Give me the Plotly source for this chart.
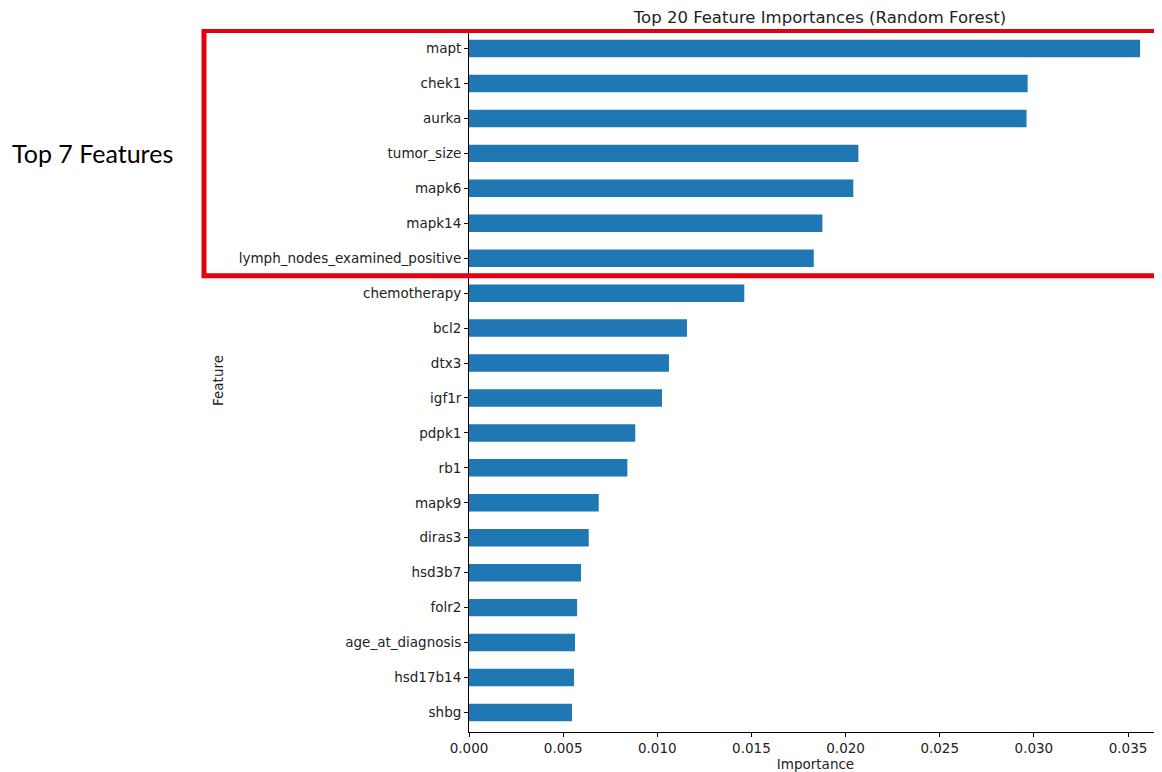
import plotly.graph_objects as go

features = ["mapt", "chek1", "aurka", "tumor_size", "mapk6", "mapk14",
            "lymph_nodes_examined_positive", "chemotherapy", "bcl2", "dtx3",
            "igf1r", "pdpk1", "rb1", "mapk9", "diras3", "hsd3b7", "folr2",
            "age_at_diagnosis", "hsd17b14", "shbg"]
importance = [0.03564, 0.02967, 0.02961, 0.02068, 0.02041, 0.01877,
              0.01831, 0.01462, 0.01158, 0.01062, 0.01025, 0.00883,
              0.00841, 0.00689, 0.00636, 0.00595, 0.00574, 0.00563,
              0.00558, 0.00547]
tick_vals = [0.0, 0.005, 0.01, 0.015, 0.02, 0.025, 0.03, 0.035]
tick_text = ["0.000", "0.005", "0.010", "0.015", "0.020", "0.025", "0.030", "0.035"]

feat_rev = features[::-1]
imp_rev = importance[::-1]

OFF = 8  # page body offset
W, H = 1162 - OFF, 772 - OFF
L, R, T, B = 469 - OFF, 0, 29 - OFF, 40
PW = W - L  # plot width in px

fig = go.Figure()
fig.add_trace(go.Bar(
    x=imp_rev, y=feat_rev, orientation="h",
    marker=dict(color="#1f77b4", line=dict(width=0)),
    width=0.5,
))

font = "DejaVu Sans, sans-serif"
fig.update_layout(
    width=W, height=H,
    margin=dict(l=L, r=R, t=T, b=B, pad=0),
    plot_bgcolor="white", paper_bgcolor="white",
    showlegend=False,
    font=dict(family=font, size=13.5, color="#222222"),
    title=dict(text="Top 20 Feature Importances (Random Forest)",
               x=(820 - OFF) / W, xanchor="center", y=1 - (17 - OFF) / H, yanchor="middle",
               font=dict(family=font, size=16.5, color="#222222")),
)
fig.update_xaxes(
    range=[0, PW / 18829.0],
    tickvals=tick_vals, ticktext=tick_text,
    ticks="outside", ticklen=4, tickcolor="black", tickwidth=1,
    showline=True, linecolor="black", linewidth=1,
    showgrid=False, zeroline=False,
    title=dict(text="Importance", font=dict(family=font, size=13.5), standoff=2),
    tickfont=dict(family=font, size=13.5),
)
fig.update_yaxes(
    type="category",
    categoryorder="array", categoryarray=feat_rev,
    range=[-0.56, 19.56],
    ticks="outside", ticklen=4, tickcolor="black", tickwidth=1,
    showline=True, linecolor="black", linewidth=1,
    showgrid=False, zeroline=False,
    title=dict(text="Feature", font=dict(family=font, size=13.5), standoff=11),
    tickfont=dict(family=font, size=13.5),
)

# red highlight box around top 7 features
fig.add_shape(type="rect", xref="paper", yref="y",
              x0=(204 - 469) / PW, x1=1.01,
              y0=12.5, y1=19.52,
              line=dict(color="#e3000f", width=5), fillcolor="rgba(0,0,0,0)",
              layer="above")
fig.add_annotation(text="Top 7 Features", xref="paper", yref="y",
                   x=(10 - 469) / PW, y=16.0, xanchor="left", yanchor="middle",
                   showarrow=False,
                   font=dict(family="Lato, Open Sans, sans-serif", size=25, color="black"))

fig.write_html("out.html")
